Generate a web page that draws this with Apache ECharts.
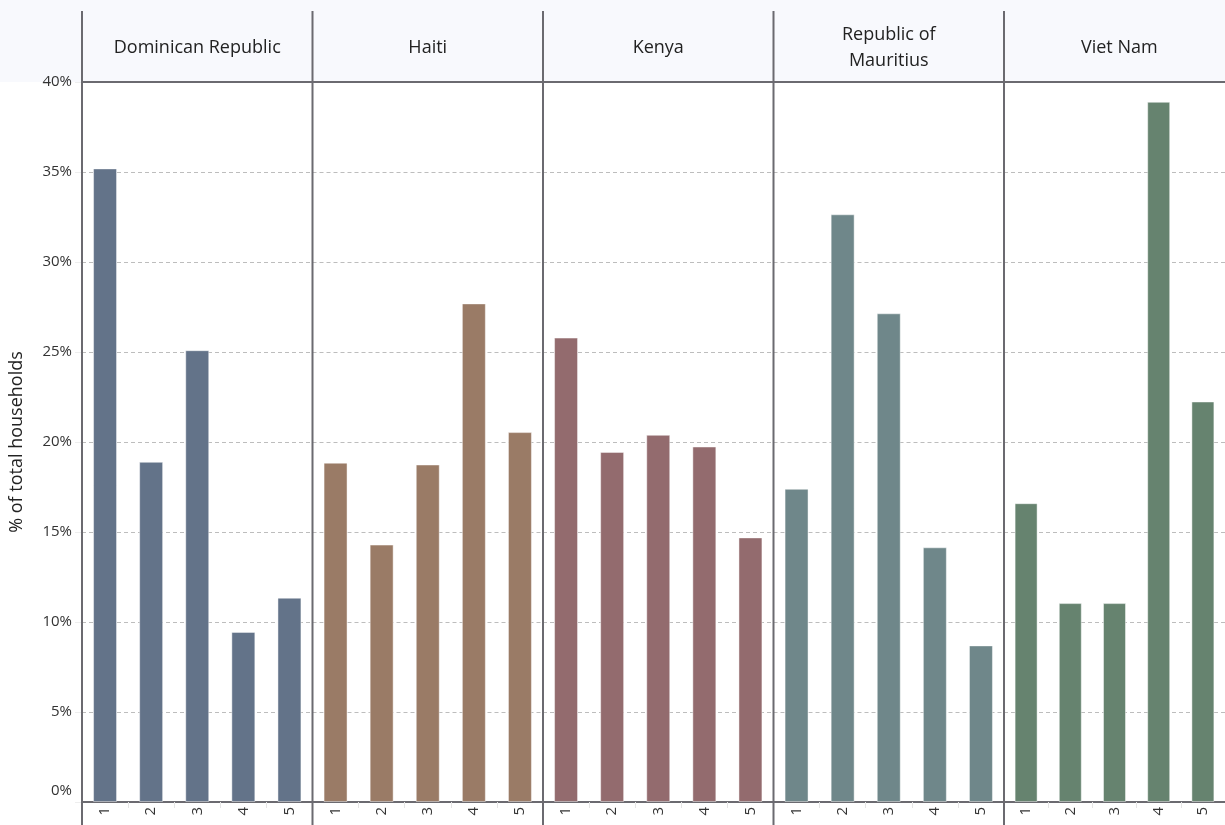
<!DOCTYPE html>
<html>
<head>
<meta charset="utf-8">
<script src="https://cdn.jsdelivr.net/npm/echarts@6/dist/echarts.min.js"></script>
<style>
html,body{margin:0;padding:0;background:#ffffff;}
#chart{width:1225px;height:825px;}
</style>
</head>
<body>
<div id="chart"></div>
<script>
// ---- data ----
const countries = ["Dominican Republic", "Haiti", "Kenya", "Republic of\nMauritius", "Viet Nam"];
const categories = ["1", "2", "3", "4", "5"];
const dominicanRepublic = [35.2, 18.9, 25.1, 9.45, 11.35];
const haiti = [18.85, 14.3, 18.75, 27.7, 20.55];
const kenya = [25.8, 19.45, 20.4, 19.75, 14.7];
const mauritius = [17.4, 32.65, 27.15, 14.15, 8.7];
const vietNam = [16.6, 11.05, 11.05, 38.9, 22.25];
const yTicks = [0, 5, 10, 15, 20, 25, 30, 35, 40];
const colors = ["#637389", "#9a7b66", "#936b6e", "#6f878a", "#66836f"];

const seriesValues = [dominicanRepublic, haiti, kenya, mauritius, vietNam];

// ---- layout ----
const W = 1225, H = 825;
const plotLeft = 82, panelW = 230.5;
const plotTop = 82, plotBottom = 802;
const headerTop = 11;
const lineColor = "#6b6a70";
const font = "'Open Sans', 'Noto Sans', sans-serif";

const grids = [], xAxes = [], yAxes = [], series = [], graphics = [];

graphics.push({type:'rect', shape:{x:0, y:0, width:W, height:plotTop}, style:{fill:'#f8f9fd'}, z:-10, silent:true});

seriesValues.forEach((vals, i) => {
  const left = plotLeft + i * panelW;
  grids.push({left: left, width: panelW, top: plotTop, bottom: H - plotBottom, containLabel:false});
  xAxes.push({
    type:'category', gridIndex:i, data:categories,
    axisLine:{show:true, lineStyle:{color:lineColor, width:2}},
    axisTick:{show:true, length:6, lineStyle:{color:'#e6e6e6', width:1}},
    axisLabel:{rotate:90, color:'#333', fontSize:15, fontFamily:font, margin:5}
  });
  yAxes.push({
    type:'value', gridIndex:i, min:yTicks[0], max:yTicks[yTicks.length-1], interval:5,
    name: i === 0 ? '% of total households' : '',
    nameLocation:'middle', nameGap:56, nameRotate:90,
    nameTextStyle:{fontSize:18, color:'#222', fontFamily:font},
    axisLine:{show:false},
    axisTick:{show: i === 0, length:7, lineStyle:{color:'#eeeeee'}},
    axisLabel:{
      show: i === 0, color:'#333', fontSize:15, fontFamily:font, margin:10,
      formatter: v => v === 0 ? '{z|0%}' : v + '%',
      rich:{z:{fontSize:15, fontFamily:font, color:'#333', padding:[0,0,22,0]}}
    },
    splitLine:{show:true, lineStyle:{color:'#bdbdbd', type:[4,3], width:1}}
  });
  series.push({
    type:'bar', xAxisIndex:i, yAxisIndex:i, data:vals, barWidth:'52%',
    itemStyle:{color:colors[i], borderColor:'rgba(255,255,255,0.45)', borderWidth:1},
    silent:true
  });
  // separators
  graphics.push({type:'line', shape:{x1:left, y1:headerTop, x2:left, y2:H}, style:{stroke:lineColor, lineWidth:2}, z:50, silent:true});
  graphics.push({type:'text', x:left + panelW/2, y:(headerTop + plotTop)/2 + 1,
    style:{text:countries[i], fill:'#222', font:"18px " + font, textAlign:'center', textVerticalAlign:'middle', lineHeight:26}, z:50, silent:true});
});
graphics.push({type:'line', shape:{x1:plotLeft, y1:plotTop, x2:W, y2:plotTop}, style:{stroke:lineColor, lineWidth:2}, z:50, silent:true});

const chart = echarts.init(document.getElementById('chart'), null, {renderer:'canvas'});
chart.setOption({
  animation:false,
  backgroundColor:'#ffffff',
  grid:grids, xAxis:xAxes, yAxis:yAxes, series:series,
  graphic:graphics
});
</script>
</body>
</html>
